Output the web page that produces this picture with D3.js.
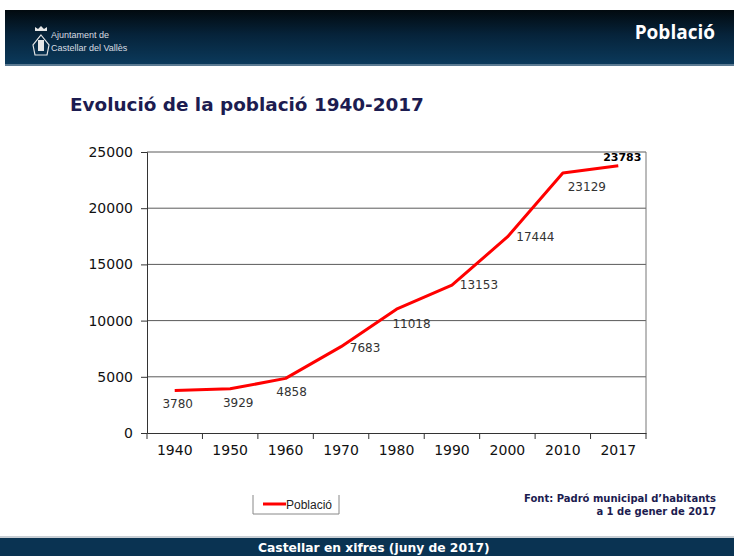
<!DOCTYPE html>
<html>
<head>
<meta charset="utf-8">
<script src="https://cdn.jsdelivr.net/npm/d3@7"></script>
<style>
  body { margin: 0; background: #fff; }
  svg { display: block; }
</style>
</head>
<body>
<svg class="chart"></svg>
<script>
const width = 734;
const height = 556;

// data
const years = ['1940', '1950', '1960', '1970', '1980', '1990', '2000', '2010', '2017'];
const population = [3780, 3929, 4858, 7683, 11018, 13153, 17444, 23129, 23783];
const yTicks = [0, 5000, 10000, 15000, 20000, 25000];
// label placement (dx, dy from point), bold for last
const labelOffsets = [[3, 17], [8, 18], [6, 18], [24, 5], [15, 19], [27, 4], [28, 4], [24, 18], [4, -5]];

const margin = { left: 147, right: 88, top: 152, bottom: 123 };

const chart = d3.select('.chart')
    .attr('width', width)
    .attr('height', height);

/*----- HEADER ------*/
const defs = chart.append('defs');
const grad = defs.append('linearGradient')
    .attr('id', 'hdr')
    .attr('x1', 0).attr('y1', 0).attr('x2', 0).attr('y2', 1);
grad.append('stop').attr('offset', '0%').attr('stop-color', '#020a0f');
grad.append('stop').attr('offset', '45%').attr('stop-color', '#06233a');
grad.append('stop').attr('offset', '100%').attr('stop-color', '#0b3a5c');

chart.append('rect')
    .attr('x', 5).attr('y', 10)
    .attr('width', width - 5).attr('height', 55)
    .attr('fill', 'url(#hdr)');
chart.append('rect')
    .attr('x', 5).attr('y', 64)
    .attr('width', width - 5).attr('height', 2)
    .attr('fill', '#5b7a92');

// little coat of arms
const logo = chart.append('g').attr('transform', 'translate(41, 27)');
logo.append('path')
    .attr('d', 'M-6,4 L-6,0 L-3,2 L0,-1 L3,2 L6,0 L6,4 Z')
    .attr('fill', '#e6e6e6');
logo.append('path')
    .attr('d', 'M0,8 L8,18 L6,28 L-6,28 L-8,18 Z')
    .attr('fill', 'none').attr('stroke', '#e6e6e6').attr('stroke-width', 1.2);
logo.append('path')
    .attr('d', 'M-3,13 L3,13 L3,24 L-3,24 Z')
    .attr('fill', '#e6e6e6');

chart.append('text')
    .attr('x', 51).attr('y', 38)
    .attr('fill', '#d8dde2')
    .style('font', '9px "Liberation Sans Narrow", "Liberation Sans", Arial, sans-serif')
    .text('Ajuntament de');
chart.append('text')
    .attr('x', 51).attr('y', 51)
    .attr('fill', '#d8dde2')
    .style('font', '9px "Liberation Sans Narrow", "Liberation Sans", Arial, sans-serif')
    .text('Castellar del Vallès');
chart.append('text')
    .attr('x', 715).attr('y', 39)
    .attr('text-anchor', 'end')
    .attr('fill', '#fff')
    .style('font', 'bold 19px "Open Sans", "DejaVu Sans", sans-serif')
    .text('Població');

/*----- TITLE ------*/
chart.append('text')
    .attr('x', 70).attr('y', 111)
    .attr('fill', '#1c1c50')
    .style('font', 'bold 18.4px "DejaVu Sans", Verdana, sans-serif')
    .text('Evolució de la població 1940-2017');

/*----- SCALES ------*/
const xScale = d3.scaleBand()
    .domain(years)
    .range([margin.left, width - margin.right]);

const yScale = d3.scaleLinear()
    .domain([0, 25000])
    .range([height - margin.bottom, margin.top]);

const x = d => xScale(d) + xScale.bandwidth() / 2;

/*----- GRID ------*/
chart.append('g')
    .selectAll('line')
    .data(yTicks.filter(d => d > 0))
    .enter()
    .append('line')
    .attr('x1', margin.left)
    .attr('x2', width - margin.right)
    .attr('y1', d => yScale(d))
    .attr('y2', d => yScale(d))
    .attr('stroke', '#5a5a5a')
    .attr('stroke-width', 1);

chart.append('line')
    .attr('x1', width - margin.right).attr('x2', width - margin.right)
    .attr('y1', margin.top).attr('y2', height - margin.bottom)
    .attr('stroke', '#777');

/*----- AXES ------*/
const yAxis = d3.axisLeft(yScale)
    .tickValues(yTicks)
    .tickSize(6)
    .tickPadding(8)
    .tickFormat(d3.format('d'));

chart.append('g')
    .attr('id', 'y-axis')
    .attr('transform', `translate(${margin.left}, 0)`)
    .call(yAxis)
    .call(g => g.selectAll('text')
        .attr('fill', '#111')
        .style('font', '14px "DejaVu Sans", Verdana, sans-serif'))
    .call(g => g.selectAll('line, path').attr('stroke', '#333'));

// band axis: ticks between categories, labels centered
const xAxis = d3.axisBottom(xScale)
    .tickSize(0)
    .tickPadding(12);

const xg = chart.append('g')
    .attr('id', 'x-axis')
    .attr('transform', `translate(0, ${height - margin.bottom})`)
    .call(xAxis);
xg.select('.domain').attr('stroke', '#333');
xg.selectAll('text')
    .attr('fill', '#111')
    .style('font', '14px "DejaVu Sans", Verdana, sans-serif');
xg.selectAll('.sep')
    .data(years.concat(['end']))
    .enter()
    .append('line')
    .attr('class', 'sep')
    .attr('x1', (d, i) => margin.left + i * xScale.step())
    .attr('x2', (d, i) => margin.left + i * xScale.step())
    .attr('y1', 0).attr('y2', 6)
    .attr('stroke', '#333');

/*----- LINE ------*/
const line = d3.line()
    .x((d, i) => x(years[i]))
    .y(d => yScale(d));

chart.append('path')
    .datum(population)
    .attr('fill', 'none')
    .attr('stroke', '#ff0000')
    .attr('stroke-width', 3)
    .attr('stroke-linejoin', 'round')
    .attr('d', line);

chart.append('g')
    .selectAll('text')
    .data(population)
    .enter()
    .append('text')
    .attr('x', (d, i) => x(years[i]) + labelOffsets[i][0])
    .attr('y', (d, i) => yScale(d) + labelOffsets[i][1])
    .attr('text-anchor', 'middle')
    .attr('fill', (d, i) => i === population.length - 1 ? '#000' : '#333')
    .style('font', (d, i) => i === population.length - 1
        ? 'bold 11px "DejaVu Sans", Verdana, sans-serif'
        : '12px "DejaVu Sans", Verdana, sans-serif')
    .text(d => d);

/*----- LEGEND ------*/
const legend = chart.append('g').attr('transform', 'translate(253, 495)');
legend.append('path')
    .attr('d', 'M0,0 L0,19 L86,19 L86,0')
    .attr('fill', 'none')
    .attr('stroke', '#888');
legend.append('line')
    .attr('x1', 10).attr('x2', 33)
    .attr('y1', 9).attr('y2', 9)
    .attr('stroke', '#ff0000')
    .attr('stroke-width', 3);
legend.append('text')
    .attr('x', 33).attr('y', 14)
    .attr('fill', '#222')
    .style('font', '12px "Liberation Sans", Arial, sans-serif')
    .text('Població');

/*----- SOURCE ------*/
chart.append('text')
    .attr('x', 716).attr('y', 502)
    .attr('text-anchor', 'end')
    .attr('fill', '#1c1c50')
    .style('font', 'bold 10px "DejaVu Sans", Verdana, sans-serif')
    .text('Font: Padró municipal d’habitants');
chart.append('text')
    .attr('x', 716).attr('y', 515)
    .attr('text-anchor', 'end')
    .attr('fill', '#1c1c50')
    .style('font', 'bold 10px "DejaVu Sans", Verdana, sans-serif')
    .text('a 1 de gener de 2017');

/*----- FOOTER ------*/
chart.append('rect')
    .attr('x', 0).attr('y', 536)
    .attr('width', width).attr('height', 2)
    .attr('fill', '#c8ced4');
chart.append('rect')
    .attr('x', 0).attr('y', 538)
    .attr('width', width).attr('height', 18)
    .attr('fill', '#0a3352');
chart.append('text')
    .attr('x', 258).attr('y', 552)
    .attr('fill', '#fff')
    .style('font', 'bold 12.3px "DejaVu Sans", Verdana, sans-serif')
    .text('Castellar en xifres (juny de 2017)');
</script>
</body>
</html>
